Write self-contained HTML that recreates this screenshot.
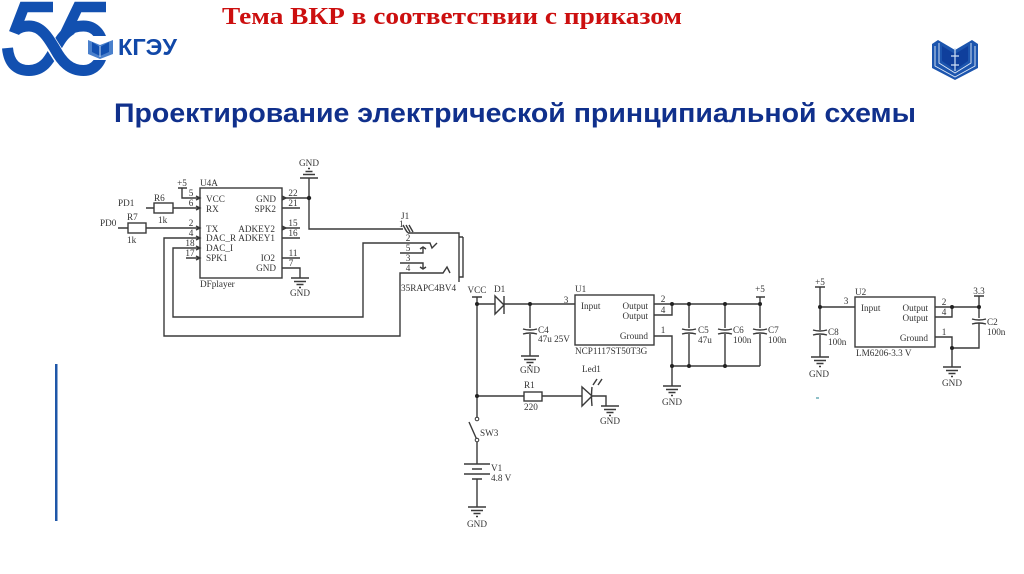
<!DOCTYPE html>
<html lang="ru"><head><meta charset="utf-8"><title>Схема</title>
<style>
html,body{margin:0;padding:0;background:#fff;width:1024px;height:574px;overflow:hidden}
svg{display:block}
.s text{font-family:"Liberation Serif",serif;font-size:9.2px;fill:#333;stroke:none}
.s .e{text-anchor:end}.s .m{text-anchor:middle}
.w{fill:none;stroke:#3a3a3a;stroke-width:1.4}
.j{fill:#222;stroke:none}
</style></head><body>
<svg width="1024" height="574" viewBox="0 0 1024 574" xmlns="http://www.w3.org/2000/svg">
<defs>
<g id="g" class="w"><path d="M-9,0H9M-6,3.5H6M-3.5,6.5H3.5M-1,9.5H1"/></g>
<g id="c" class="w"><path d="M-7,0Q0,2 7,0M-7,5Q0,3 7,5" /></g>
</defs>
<!-- logo -->
<g fill="none" stroke="#1250b0" stroke-width="11">
<path d="M53,7H24L14,33" stroke-width="10.5"/><path d="M106,7H78L65,34" stroke-width="10.5"/>
<path d="M7.5,48C9,64 17,70.5 29,70.5C43,70.5 49,60 54,51C59,42 63,34 72,29"/>
<path d="M48,39C52,45 58,55 63,62" stroke="#fff" stroke-width="13.5"/>
<path d="M15,31C19,27 24,26 29,26C42,26 49,39 55,49C62,62 70,70.5 83.5,70.5C95,70.5 102.5,61 102.5,48C102.5,35 95,26 83.5,26C77,26 72,27 67,31"/>
</g>
<rect x="86" y="36" width="30" height="24" fill="#fff"/>
<path d="M88,40L100,45L113,40V54L100,59L88,54Z" fill="#4a80cc"/><path d="M92,42L100,47L109,42V52L100,56L92,52Z" fill="#1250b0"/>
<path d="M100,46V57" stroke="#cfe0f5" stroke-width="1"/>
<text x="118" y="55" font-family="Liberation Sans,sans-serif" font-weight="700" font-size="23" fill="#1148a8" textLength="59" lengthAdjust="spacingAndGlyphs">КГЭУ</text>
<!-- titles -->
<text x="222" y="24" font-family="Liberation Serif,serif" font-weight="700" font-size="24.5" fill="#cc0f0f" textLength="460" lengthAdjust="spacingAndGlyphs">Тема ВКР в соответствии с приказом</text>
<text x="114" y="122" font-family="Liberation Sans,sans-serif" font-weight="700" font-size="27" fill="#10308c" textLength="802" lengthAdjust="spacingAndGlyphs">Проектирование электрической принципиальной схемы</text>
<!-- right book icon -->
<path d="M932,44L938,40L955,50L972,40L978,44V68L955,80L932,68Z" fill="#1c55ae"/>
<path d="M935,46V66L955,77L975,66V46M939,43V63L955,73L971,63V43" fill="none" stroke="#dfe9f7" stroke-width=".9"/>
<path d="M942,46L955,54L968,46V61L955,70L942,61Z" fill="#0f3f9c"/>
<path d="M955,48V71M951,56H959M951,65H959" stroke="#cfe0f5" stroke-width="1.2" fill="none"/>
<!-- left bar -->
<rect x="55" y="364" width="2.5" height="157" fill="#1f57a8"/>
<rect x="816" y="397" width="3" height="2" fill="#8fc0c8"/>

<g class="s" style="filter:blur(.35px)">
<!-- U4A -->
<rect class="w" x="200" y="188" width="82" height="90"/>
<path class="w" d="M178,188H187M182,188V198H200M146,208H154M173,208H200M118,228H128M146,228H200M200,238H164V336H400V273H443L447,267L450,273M200,248H173V317H363V243H430L432,248L437,243M186,258H200"/>
<path class="w" d="M282,198H309M282,208H300M282,228H300M282,238H300M282,258H300M282,268H300V278"/>
<rect class="w" x="154" y="203" width="19" height="10" fill="#fff"/>
<rect class="w" x="128" y="223" width="18" height="10" fill="#fff"/>
<path class="w" d="M196,196L200,198L196,200M196,206L200,208L196,210M196,226L200,228L196,230M196,236L200,238L196,240M196,246L200,248L196,250M196,256L200,258L196,260M282,196L286,198L282,200M282,226L286,228L282,230"/>
<use href="#g" x="300" y="278"/>
<use href="#g" transform="translate(309,178) scale(1,-1)"/>
<path class="w" d="M309,178V229H403M408,233H459V282M463,237H459M463,237V277H459"/>
<path class="w" d="M403,225L407,232M406,225L410,232M409,225L413,232M405,229L408,233"/>
<path class="w" d="M400,253H423V248M420,249L423,247L426,249M400,263H423V268M420,267L423,269L426,267"/>
<circle class="j" cx="309" cy="198" r="2.2"/>
<text x="182" y="186" class="m">+5</text><text x="200" y="186">U4A</text>
<text x="191" y="196" class="m">5</text><text x="191" y="206" class="m">6</text><text x="191" y="226" class="m">2</text><text x="191" y="236" class="m">4</text><text x="190" y="246" class="m">18</text><text x="190" y="256" class="m">17</text>
<text x="206" y="202">VCC</text><text x="206" y="212">RX</text><text x="206" y="232">TX</text><text x="206" y="241">DAC_R</text><text x="206" y="251">DAC_I</text><text x="206" y="261">SPK1</text>
<text x="276" y="202" class="e">GND</text><text x="276" y="212" class="e">SPK2</text><text x="275" y="232" class="e">ADKEY2</text><text x="275" y="241" class="e">ADKEY1</text><text x="275" y="261" class="e">IO2</text><text x="276" y="271" class="e">GND</text>
<text x="293" y="196" class="m">22</text><text x="293" y="206" class="m">21</text><text x="293" y="226" class="m">15</text><text x="293" y="236" class="m">16</text><text x="293" y="256" class="m">11</text><text x="291" y="266" class="m">7</text>
<text x="200" y="287">DFplayer</text><text x="300" y="296" class="m">GND</text><text x="309" y="166" class="m">GND</text>
<text x="118" y="206">PD1</text><text x="100" y="226">PD0</text><text x="154" y="201">R6</text><text x="127" y="220">R7</text><text x="158" y="223">1k</text><text x="127" y="243">1k</text>
<text x="401" y="219">J1</text><text x="399" y="227">1</text><text x="408" y="241" class="m">2</text><text x="408" y="251" class="m">5</text><text x="408" y="261" class="m">3</text><text x="408" y="271" class="m">4</text>
<text x="401" y="291">35RAPC4BV4</text>

<!-- power / VCC -->
<path class="w" d="M472,297H482M477,297V419M477,304H495M504,304H575M477,396H524M542,396H582M592,396H606V406M477,440V464M469,422L477,440M464,464H490M472,469H482M464,474H490M472,479H482M477,479V507"/>
<circle cx="477" cy="419" r="1.8" fill="#fff" stroke="#333"/><circle cx="477" cy="440" r="1.8" fill="#fff" stroke="#333"/>
<use href="#g" x="477" y="507"/>
<path class="w" d="M495,296V314L504,305ZM504,296V314" fill="#fff"/>
<path class="w" d="M530,304V328M530,334V356"/>
<use href="#c" x="530" y="329"/><use href="#g" x="530" y="356"/>
<rect class="w" x="524" y="392" width="18" height="9" fill="#fff"/>
<path class="w" d="M582,387V406L592,396ZM592,387Q591,396 592,406" fill="#fff"/>
<path class="w" d="M593,385L597,379M598,385L602,379"/>
<use href="#g" x="610" y="406"/>
<circle class="j" cx="477" cy="304" r="2"/><circle class="j" cx="477" cy="396" r="2"/><circle class="j" cx="530" cy="304" r="2"/>
<text x="477" y="293" class="m">VCC</text><text x="494" y="292">D1</text><text x="538" y="333">C4</text><text x="538" y="342">47u 25V</text><text x="530" y="373" class="m">GND</text>
<text x="524" y="388">R1</text><text x="524" y="410">220</text><text x="582" y="372">Led1</text><text x="610" y="424" class="m">GND</text>
<text x="480" y="436">SW3</text><text x="491" y="471">V1</text><text x="491" y="481">4.8 V</text><text x="477" y="527" class="m">GND</text>

<!-- U1 -->
<rect class="w" x="575" y="295" width="79" height="50"/>
<path class="w" d="M654,304H760M654,315H672V304M654,336H672V386M672,366H760M689,304V328M689,334V366M725,304V328M725,334V366M760,304V328M760,334V366M756,297H765M760,297V304"/>
<use href="#c" x="689" y="329"/><use href="#c" x="725" y="329"/><use href="#c" x="760" y="329"/><use href="#g" x="672" y="386"/>
<circle class="j" cx="672" cy="304" r="2"/><circle class="j" cx="689" cy="304" r="2"/><circle class="j" cx="725" cy="304" r="2"/><circle class="j" cx="760" cy="304" r="2"/><circle class="j" cx="672" cy="366" r="2"/><circle class="j" cx="689" cy="366" r="2"/><circle class="j" cx="725" cy="366" r="2"/>
<text x="575" y="292">U1</text><text x="566" y="303" class="m">3</text><text x="581" y="309">Input</text><text x="648" y="309" class="e">Output</text><text x="648" y="319" class="e">Output</text><text x="648" y="339" class="e">Ground</text><text x="575" y="354">NCP1117ST50T3G</text>
<text x="663" y="302" class="m">2</text><text x="663" y="313" class="m">4</text><text x="663" y="333" class="m">1</text>
<text x="698" y="333">C5</text><text x="698" y="343">47u</text><text x="733" y="333">C6</text><text x="733" y="343">100n</text><text x="768" y="333">C7</text><text x="768" y="343">100n</text>
<text x="760" y="292" class="m">+5</text><text x="672" y="405" class="m">GND</text>

<!-- U2 -->
<rect class="w" x="855" y="297" width="80" height="50"/>
<path class="w" d="M815,287H825M820,287V330M820,307H855M820,335V357M935,307H979M935,317H952V307M935,337H952V367M952,348H979V323M979,296V318M974,296H984"/>
<use href="#c" x="820" y="330"/><use href="#c" x="979" y="319"/><use href="#g" x="820" y="357"/><use href="#g" x="952" y="367"/>
<circle class="j" cx="820" cy="307" r="2"/><circle class="j" cx="952" cy="307" r="2"/><circle class="j" cx="979" cy="307" r="2"/><circle class="j" cx="952" cy="348" r="2"/>
<text x="820" y="285" class="m">+5</text><text x="855" y="295">U2</text><text x="846" y="304" class="m">3</text><text x="861" y="311">Input</text><text x="928" y="311" class="e">Output</text><text x="928" y="321" class="e">Output</text><text x="928" y="341" class="e">Ground</text><text x="856" y="356">LM6206-3.3 V</text>
<text x="944" y="305" class="m">2</text><text x="944" y="315" class="m">4</text><text x="944" y="335" class="m">1</text>
<text x="828" y="335">C8</text><text x="828" y="345">100n</text><text x="987" y="325">C2</text><text x="987" y="335">100n</text><text x="979" y="294" class="m">3.3</text><text x="819" y="377" class="m">GND</text><text x="952" y="386" class="m">GND</text>
</g>
</svg>
</body></html>
